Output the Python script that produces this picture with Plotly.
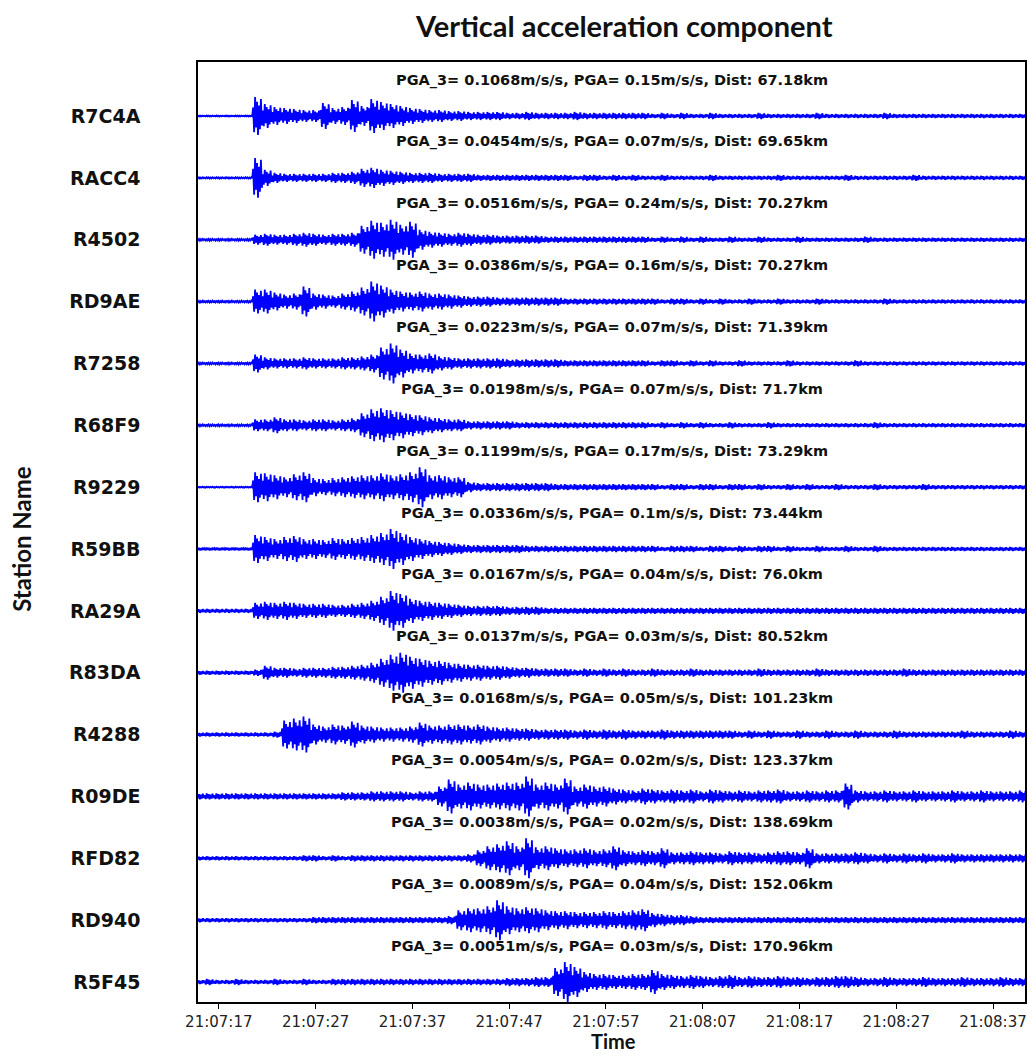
import plotly.graph_objects as go
import pandas as pd

# ---------------- data ----------------
stations = ["R7C4A", "RACC4", "R4502", "RD9AE", "R7258", "R68F9", "R9229", "R59BB",
            "RA29A", "R83DA", "R4288", "R09DE", "RFD82", "RD940", "R5F45"]
pga3 = [0.1068, 0.0454, 0.0516, 0.0386, 0.0223, 0.0198, 0.1199, 0.0336,
        0.0167, 0.0137, 0.0168, 0.0054, 0.0038, 0.0089, 0.0051]
pga = [0.15, 0.07, 0.24, 0.16, 0.07, 0.07, 0.17, 0.1, 0.04, 0.03, 0.05, 0.02, 0.02, 0.04, 0.03]
dist = [67.18, 69.65, 70.27, 70.27, 71.39, 71.7, 73.29, 73.44, 76.0, 80.52,
        101.23, 123.37, 138.69, 152.06, 170.96]

# envelope (relative amplitude) per 1-second bin, 21:07:15 ... 21:08:40
env_R7C4A = [0.5,0.5,0.5,0.5,0.5,0.5, 19,12,9,8,7,6,6,13,8,9, 16,10,17,14,12,10,8,7,6,6,
             5,5,4,4,4,4,3,3,4,3, 3,3,3,4,3,3,3,3,3,3, 3,2,3,2,3,2,2,3,2,2,
             2,2,3,2,2,2,2,2,3,2, 2,2,2,2,2,3,2,2,2,2, 2,2,2,2,2,2,2,2,2,2]
env_RACC4 = [0.7,0.7,0.7,0.7,0.7,0.7, 20,8,5,4,4,4,4,4,5,5, 6,9,10,8,7,6,5,5,5,4,
             4,4,4,3,3,3,3,3,3,3, 3,3,3,2,3,3,2,3,2,3, 2,2,3,2,2,2,2,3,2,2,
             2,2,2,2,3,2,2,2,2,2, 2,3,2,2,2,2,2,2,3,2, 2,2,2,2,2,2,2,2,2,2]
env_R4502 = [1,1,1,1,1,1, 5,6,5,5,6,7,6,5,6,6, 7,14,19,17,20,15,18,10,8,7,
             6,7,6,5,5,4,4,4,4,4, 3,3,3,3,3,3,3,3,3,3, 3,2,3,2,3,2,3,2,2,3,
             2,2,3,2,2,2,3,2,2,2, 2,2,2,3,2,2,2,2,2,2, 2,2,2,2,2,2,2,2,2,2]
env_RD9AE = [1,1,1,1,1,1, 12,12,9,7,8,15,8,7,6,8, 10,14,20,16,12,10,9,10,8,8,
             7,6,5,5,5,4,4,4,4,4, 4,4,3,3,3,3,3,3,3,3, 3,3,2,3,3,2,3,2,3,2,
             2,3,2,2,3,2,2,2,3,2, 2,2,2,2,2,3,2,2,2,2, 2,2,2,2,2,2,2,2,2,2]
env_R7258 = [1,1,1,1,1,1, 9,6,5,5,5,6,5,5,5,6, 6,7,9,16,20,14,10,9,10,7,
             6,5,5,5,5,5,4,4,4,4, 4,4,3,3,3,3,3,3,3,3, 3,2,3,3,2,3,2,3,2,2,
             3,2,2,2,2,3,2,2,2,2, 2,2,3,2,2,2,2,2,2,2, 2,2,2,2,2,2,2,2,2,2]
env_R68F9 = [1,1,1,1,1,1, 6,6,8,6,6,5,6,6,5,6, 7,12,16,17,15,13,11,10,8,7,
             6,6,4,4,4,4,4,3,3,3, 3,3,3,3,3,3,3,3,3,3, 3,2,3,2,3,2,3,2,2,3,
             2,2,2,3,2,2,2,2,2,2, 2,2,2,2,3,2,2,2,2,2, 2,2,2,2,2,2,2,2,2,2]
env_R9229 = [0.5,0.5,0.5,0.5,0.5,0.5, 15,14,12,10,13,15,9,8,9,10, 11,12,12,14,12,13,15,20,12,12,
             10,10,5,4,4,4,4,4,4,4, 4,3,3,3,3,3,3,3,3,3, 3,3,2,3,3,2,3,3,2,3,
             3,2,3,2,2,3,2,3,2,2, 3,2,2,2,3,2,2,2,2,3, 2,2,2,2,2,2,2,2,2,2]
env_R59BB = [1.5,1.5,1.5,1.5,1.5,1.5, 14,12,10,12,13,10,10,9,11,10, 11,12,14,16,20,16,12,10,8,7,
             6,5,4,4,4,4,4,4,3,3, 3,3,3,3,3,3,3,3,3,3, 3,3,2,3,3,3,2,3,3,2,
             3,2,3,3,2,3,2,2,3,2, 2,3,2,2,3,2,2,2,2,2, 2,2,2,2,2,2,2,2,2,2]
env_RA29A = [2,2,2,2,2,2, 8,9,8,9,8,7,7,7,6,6, 7,8,10,14,20,17,12,10,9,8,
             7,6,5,5,5,5,4,4,4,4, 3,3,3,3,3,3,3,3,3,3, 3,3,3,3,3,3,3,3,3,3,
             3,3,3,3,3,3,3,3,3,3, 3,3,3,3,3,3,3,3,3,3, 3,3,3,3,3,3,3,3,3,3]
env_R83DA = [2,2,2,2,2,2, 3,7,5,5,4,5,5,5,6,6, 7,8,10,14,18,20,16,14,12,12,
             10,9,8,8,7,7,6,5,5,4, 4,4,4,3,4,3,4,3,4,3, 3,4,3,3,3,4,3,3,3,3,
             3,3,4,3,3,3,3,3,4,3, 3,3,3,3,3,3,3,4,3,3, 3,3,3,3,3,3,3,3,3,3]
env_R4288 = [2,2,2,2,2,2, 2,2,3,14,16,18,10,8,10,9, 13,9,8,7,7,7,8,12,9,9,
             10,10,9,10,8,7,7,6,6,5, 5,5,5,4,5,4,5,4,5,4, 4,4,5,4,4,4,4,4,4,4,
             3,4,3,4,3,3,4,3,3,4, 3,3,4,3,3,3,4,3,3,3, 3,3,3,4,3,3,3,3,4,3]
env_R09DE = [3,3,3,3,3,3, 3,3,3,3,3,3,3,3,3,4, 4,4,5,5,5,5,4,5,5,10,
             17,12,14,12,12,13,14,14,20,12, 14,12,18,10,12,10,10,8,7,6,
             8,7,6,7,6,7,5,7,6,5, 6,5,6,6,7,5,5,6,5,6, 6,13,6,5,5,6,5,5,6,5,
             5,5,6,5,5,6,5,5,5,6]
env_RFD82 = [2,2,2,2,2,2, 2,2,2,2,2,3,3,2,3,2, 3,3,3,3,3,3,3,3,3,3,
             3,3,4,8,12,14,17,12,20,11, 12,10,9,9,10,8,9,12,8,7,
             8,7,10,6,6,7,6,6,5,7, 6,6,5,6,7,7,6,10,5,5, 5,5,6,5,4,5,4,5,4,5,
             4,4,5,4,4,4,4,4,4,4]
env_RD940 = [2,2,2,2,2,2, 2,2,2,2,2,2,3,3,3,3, 3,3,3,3,3,3,3,3,3,3,
             4,10,12,12,14,20,14,12,13,12, 10,9,9,8,8,8,9,8,9,10,
             11,7,6,5,5,4,3,3,3,3, 3,3,3,3,3,3,3,3,3,3, 3,3,3,3,3,3,3,3,3,3,
             3,3,3,3,3,3,3,3,3,3]
env_R5F45 = [2,3,2,2,3,2, 2,2,3,2,2,3,2,2,3,3, 3,3,3,3,3,3,3,3,3,3,
             3,3,3,3,3,3,4,4,4,5, 5,14,20,15,10,8,8,7,7,8,
             8,12,8,7,6,7,6,5,6,7, 5,6,5,5,6,5,5,4,5,5, 6,6,5,4,4,5,4,4,4,5,
             4,4,4,5,4,4,4,5,4,4]

envelopes = [env_R7C4A, env_RACC4, env_R4502, env_RD9AE, env_R7258, env_R68F9, env_R9229,
             env_R59BB, env_RA29A, env_R83DA, env_R4288, env_R09DE, env_RFD82, env_RD940, env_R5F45]

start_time = "2000-01-01 21:07:15"
x_start = "2000-01-01 21:07:14.85"
x_end = "2000-01-01 21:08:40.3"
tick_start = "2000-01-01 21:07:17"

# ---------------- drawing ----------------
pattern = [0.45, -0.85, 1.0, -0.6, 0.75, -1.0, 0.55, -0.7, 0.9, -0.5]  # oscillation style within each bin
amp_scale = 1.0 / 62.0
base = pd.Timestamp(start_time)
n_st = len(stations)

fig = go.Figure()
for i, (name, env) in enumerate(zip(stations, envelopes)):
    offset = n_st - 1 - i
    xs, ys = [], []
    for k, a in enumerate(env):
        for j, m in enumerate(pattern):
            xs.append(base + pd.Timedelta(seconds=k - 0.5 + (j + 0.5) / len(pattern)))
            ys.append(offset + m * a * amp_scale)
    fig.add_trace(go.Scatter(x=xs, y=ys, mode="lines", name=name,
                             line=dict(color="#0000ff", width=1.8),
                             showlegend=False, hoverinfo="skip"))
    fig.add_annotation(x=0.5, xref="paper", y=offset + 0.58, yref="y",
                       text=f"PGA_3= {pga3[i]}m/s/s, PGA= {pga[i]}m/s/s, Dist: {dist[i]}km",
                       showarrow=False, xanchor="center", yanchor="middle",
                       font=dict(family="DejaVu Sans", size=14.5, color="#111111", weight="bold"))

# plot area spans 940 px vertically; positions below are relative to it
fig.add_annotation(x=0.515, xref="paper", y=1.0383, yref="paper",
                   text="Vertical acceleration component", showarrow=False,
                   xanchor="center", yanchor="middle",
                   font=dict(family="Lato", size=29, color="#111111", weight="bold"))
fig.add_annotation(x=0.503, xref="paper", y=-0.0415, yref="paper",
                   text="Time", showarrow=False, xanchor="center", yanchor="middle",
                   font=dict(family="Lato", size=20, color="#111111", weight="bold"))
fig.add_annotation(x=-0.213, xref="paper", y=0.4926, yref="paper",
                   text="Station Name", showarrow=False, textangle=-90,
                   xanchor="center", yanchor="middle",
                   font=dict(family="Lato", size=24, color="#111111", weight="bold"))

# page body has an 8px default margin: size the figure so it sits inside the window
fig.update_layout(
    width=1019, height=1047,
    margin=dict(l=190, r=2, t=54, b=53, autoexpand=False),
    paper_bgcolor="white", plot_bgcolor="white",
    xaxis=dict(type="date", range=[x_start, x_end], tick0=tick_start, dtick=10000,
               tickformat="%H:%M:%S", showgrid=False, zeroline=False, automargin=False,
               showline=True, linecolor="black", linewidth=1.5, mirror=True,
               ticks="outside", ticklen=5, tickcolor="black", ticklabeloverflow="allow",
               tickfont=dict(family="DejaVu Sans", size=15, color="#222222")),
    yaxis=dict(range=[-0.323, 14.873], tickvals=[n_st - 1 - i for i in range(n_st)],
               ticktext=stations, showgrid=False, zeroline=False, automargin=False,
               showline=True, linecolor="black", linewidth=1.5, mirror=True,
               ticks="", ticklabelstandoff=52,
               tickfont=dict(family="DejaVu Sans", size=19, color="#111111", weight="bold")),
)

fig.write_html("out.html")
